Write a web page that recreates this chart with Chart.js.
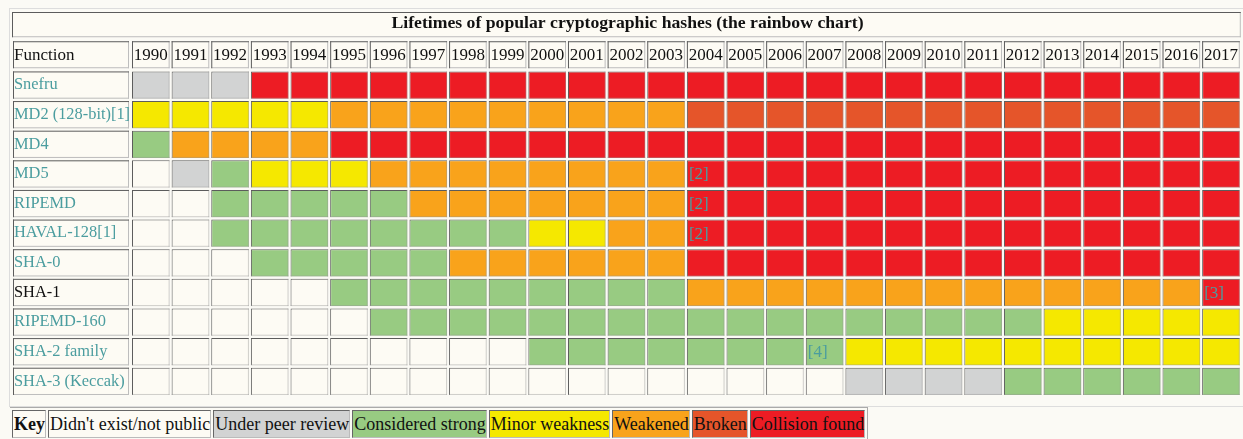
<!DOCTYPE html>
<html>
<head>
<meta charset="utf-8">
<title>Lifetimes of popular cryptographic hashes</title>
<script src="https://cdn.jsdelivr.net/npm/chart.js@4.4.0/dist/chart.umd.min.js"></script>
<style>
  body { margin: 0; background: #fbfaf5; overflow: hidden; font-family: "Liberation Serif", serif; }
  #frame { position: absolute; left: 9px; top: 8px; width: 1240px; height: 397px; border: 1px solid #ddd; border-right: none; }
  #chart { position: absolute; left: 0; top: 0; }
  #key { position: absolute; left: 10px; top: 407px; border-collapse: separate; border-spacing: 2px;
         border: 1px solid #aaa; border-bottom: none; border-left: none; background: #fbfaf5; }
  #key td { font-size: 18px; line-height: 26px; height: 26px; padding: 0 0 0 1px; white-space: nowrap;
            border: 1px solid; border-color: #666 #bbb #bbb #666; color: #111; }
</style>
</head>
<body>
<div id="frame"></div>
<canvas id="chart" width="1243" height="406"></canvas>
<table id="key"><tr id="keyRow"></tr></table>
<script>
const title = "Lifetimes of popular cryptographic hashes (the rainbow chart)";
const columnHeader = "Function";
const years = [1990, 1991, 1992, 1993, 1994, 1995, 1996, 1997, 1998, 1999,
  2000, 2001, 2002, 2003, 2004, 2005, 2006, 2007, 2008, 2009,
  2010, 2011, 2012, 2013, 2014, 2015, 2016, 2017];
const functions = ["Snefru", "MD2 (128-bit)[1]", "MD4", "MD5", "RIPEMD", "HAVAL-128[1]",
  "SHA-0", "SHA-1", "RIPEMD-160", "SHA-2 family", "SHA-3 (Keccak)"];
// SHA-1 is the only name that is not a link
const linked = [true, true, true, true, true, true, true, false, true, true, true];

// one letter per year, 1990..2017
// N didn't exist, P peer review, S strong, M minor weakness, W weakened, B broken, C collision
const snefru    = "PPPCCCCCCCCCCCCCCCCCCCCCCCCC";
const md2       = "MMMMMWWWWWWWWWBBBBBBBBBBBBBB";
const md4       = "SWWWWCCCCCCCCCCCCCCCCCCCCCCC";
const md5       = "NPSMMMWWWWWWWWCCCCCCCCCCCCCC";
const ripemd    = "NNSSSSSWWWWWWWCCCCCCCCCCCCCC";
const haval128  = "NNSSSSSSSSMMWWCCCCCCCCCCCCCC";
const sha0      = "NNNSSSSSWWWWWWCCCCCCCCCCCCCC";
const sha1      = "NNNNNSSSSSSSSSWWWWWWWWWWWWWC";
const ripemd160 = "NNNNNNSSSSSSSSSSSSSSSSSMMMMM";
const sha2      = "NNNNNNNNNNSSSSSSSSMMMMMMMMMM";
const sha3      = "NNNNNNNNNNNNNNNNNNPPPPSSSSSS";
const rows = [snefru, md2, md4, md5, ripemd, haval128, sha0, sha1, ripemd160, sha2, sha3];

const statusCodes  = ["N", "P", "S", "M", "W", "B", "C"];
const statusLabels = ["Didn't exist/not public", "Under peer review", "Considered strong",
  "Minor weakness", "Weakened", "Broken", "Collision found"];
const statusColors = ["#fdfbf4", "#d2d3d3", "#98cb82", "#f5e800", "#f9a31b", "#e5552a", "#ed1c24"];

const noteFns   = ["MD5", "RIPEMD", "HAVAL-128[1]", "SHA-1", "SHA-2 family"];
const noteYears = [2004, 2004, 2004, 2017, 2007];
const noteTexts = ["[2]", "[2]", "[2]", "[3]", "[4]"];

const FONT = "'Liberation Serif', serif";
const TEAL = "#4b9d9f";
const CELL_GAP = 0.05;   // part of a year left blank between cells
const colorOf = code => statusColors[statusCodes.indexOf(code)];

const datasets = years.map((yr, j) => ({
  label: String(yr),
  data: functions.map(() => [yr - 0.5 + CELL_GAP / 2, yr + 0.5 - CELL_GAP / 2]),
  backgroundColor: rows.map(r => colorOf(r[j])),
  borderColor: "#5c5c5c",
  borderWidth: { top: 1, left: 1, right: 0, bottom: 0 },
  borderSkipped: false,
  grouped: false,
  categoryPercentage: 1,
  barPercentage: 0.92
}));

function insetBox(ctx, x, y, w, h, fill) {
  ctx.fillStyle = fill;
  ctx.fillRect(x, y, w, h);
  ctx.fillStyle = "#bdbdbd";
  ctx.fillRect(x, y + h - 1, w, 1);
  ctx.fillRect(x + w - 1, y, 1, h);
  ctx.fillStyle = "#5c5c5c";
  ctx.fillRect(x, y, w, 1);
  ctx.fillRect(x, y, 1, h);
}

const tableFrames = {
  id: "tableFrames",
  // boxes go under the title, the tick labels and the bars
  beforeDraw(chart) {
    const ctx = chart.ctx;
    const x = chart.scales.x, y = chart.scales.y;
    const tb = chart.titleBlock;
    ctx.save();
    insetBox(ctx, y.left - 2, tb.top + 12, chart.chartArea.right - y.left + 2, tb.bottom - tb.top - 14, "#fdfbf4");
    const hTop = x.top + 2, hH = x.bottom - x.top - 4;
    insetBox(ctx, y.left - 1, hTop, y.right - y.left - 1, hH, "#fdfbf4");
    years.forEach(yr => {
      const l = x.getPixelForValue(yr - 0.5 + CELL_GAP / 2);
      const r = x.getPixelForValue(yr + 0.5 - CELL_GAP / 2);
      insetBox(ctx, l, hTop, r - l, hH, "#fdfbf4");
    });
    ctx.fillStyle = "#111";
    ctx.font = "17px " + FONT;
    ctx.textBaseline = "middle";
    ctx.fillText(columnHeader, y.left, hTop + hH / 2 + 1);
    const rowH = (y.bottom - y.top) / functions.length * 0.92;
    functions.forEach((f, i) => {
      const cy = y.getPixelForValue(i);
      insetBox(ctx, y.left - 1, cy - rowH / 2, y.right - y.left - 1, rowH, "#fdfbf4");
    });
    ctx.restore();
  },
  afterDatasetsDraw(chart) {
    const ctx = chart.ctx;
    ctx.save();
    chart.data.datasets.forEach((ds, d) => {
      chart.getDatasetMeta(d).data.forEach(bar => {
        const l = Math.min(bar.base, bar.x), r = Math.max(bar.base, bar.x);
        ctx.fillStyle = "rgba(150,150,150,0.45)";
        ctx.fillRect(r - 1, bar.y - bar.height / 2, 1, bar.height);
        ctx.fillRect(l, bar.y + bar.height / 2 - 1, r - l, 1);
      });
    });
    ctx.font = "17px " + FONT;
    ctx.fillStyle = TEAL;
    ctx.textBaseline = "middle";
    noteTexts.forEach((t, k) => {
      const d = years.indexOf(noteYears[k]);
      const bar = chart.getDatasetMeta(d).data[functions.indexOf(noteFns[k])];
      ctx.fillText(t, Math.min(bar.base, bar.x) + 2, bar.y + 1);
    });
    ctx.restore();
  }
};

new Chart(document.getElementById("chart"), {
  type: "bar",
  data: { labels: functions, datasets: datasets },
  options: {
    indexAxis: "y",
    responsive: false,
    animation: false,
    devicePixelRatio: 1,
    layout: { padding: { left: 14, right: 2, top: 0, bottom: 1 } },
    plugins: {
      legend: { display: false },
      tooltip: { enabled: false },
      title: {
        display: true,
        text: title,
        color: "#111",
        font: { family: FONT, size: 17.7, weight: "bold" },
        padding: { top: 13, bottom: 5 }
      }
    },
    scales: {
      x: {
        type: "linear",
        position: "top",
        min: years[0] - 0.5,
        max: years[years.length - 1] + 0.5,
        grid: { display: false, drawTicks: false },
        border: { display: false },
        afterBuildTicks: s => { s.ticks = years.map(v => ({ value: v })); },
        afterFit: s => { s.height = 31; },
        ticks: {
          autoSkip: false,
          maxRotation: 0,
          padding: 5,
          color: "#111",
          font: { family: FONT, size: 17 },
          callback: v => String(v)
        }
      },
      y: {
        type: "category",
        grid: { display: false },
        border: { display: false },
        afterFit: s => { s.width = 117; },
        ticks: {
          crossAlign: "far",
          padding: 0,
          font: { family: FONT, size: 16.4 },
          color: c => linked[c.index] ? TEAL : "#111"
        }
      }
    }
  },
  plugins: [tableFrames]
});

const keyRow = document.getElementById("keyRow");
const keyHead = document.createElement("td");
keyHead.innerHTML = "<b>Key</b>";
keyHead.style.background = "#fdfbf4";
keyRow.appendChild(keyHead);
statusLabels.forEach((label, i) => {
  const td = document.createElement("td");
  td.textContent = label;
  td.style.background = statusColors[i];
  keyRow.appendChild(td);
});
</script>
</body>
</html>
